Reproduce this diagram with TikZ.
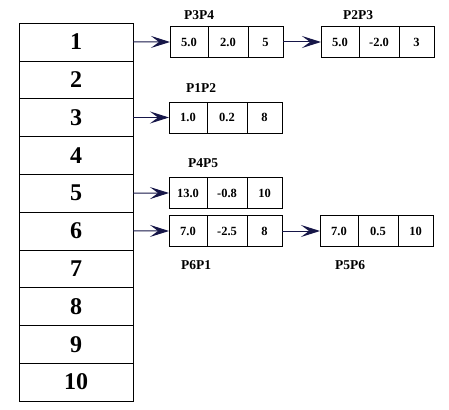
\documentclass[tikz,border=0pt]{standalone}
\usepackage{fontspec}
\setmainfont{Liberation Serif}
\usepackage{tikz}
\usetikzlibrary{positioning,arrows.meta}

\definecolor{linkblue}{RGB}{22,22,72}

\tikzset{
  slot/.style={draw, outer sep=0pt, inner sep=0pt, minimum width=114pt, minimum height=37.8pt,
    font=\fontsize{24}{24}\selectfont\bfseries},
  cell/.style={draw, outer sep=0pt, inner sep=0pt, minimum height=31pt,
    font=\fontsize{12.5}{12.5}\selectfont\bfseries},
  tag/.style={font=\fontsize{13.5}{13.5}\selectfont\bfseries},
  link/.style={draw=linkblue, line width=1pt, -{Stealth[length=19pt, width=12pt, inset=8pt]}}
}

% one record = three cells side by side
\newcommand{\record}[5]{%
  \node[cell, minimum width=38pt, anchor=west] (#1a) at #2 {#3};
  \node[cell, minimum width=40pt, right=0pt of #1a] (#1b) {#4};
  \node[cell, minimum width=35pt, right=0pt of #1b] (#1c) {#5};
}

\begin{document}
\begin{tikzpicture}[x=1pt, y=-1pt]
\useasboundingbox (0,0) rectangle (449,409);

% hash table
\foreach \i in {1,...,10}
  \node[slot] (r\i) at (76, {23+37.8*\i-18.9}) {\i};

% edge records
\record{pa}{(170,42)}{5.0}{2.0}{5}
\record{pb}{(321,42)}{5.0}{-2.0}{3}
\record{pc}{(169,117.5)}{1.0}{0.2}{8}
\record{pd}{(169,193)}{13.0}{-0.8}{10}
\record{pe}{(169,231)}{7.0}{-2.5}{8}
\record{pf}{(320,231)}{7.0}{0.5}{10}

\node[tag] (ta) at (199,15) {P3P4};
\node[tag] (tb) at (358,15) {P2P3};
\node[tag] (tc) at (201,88) {P1P2};
\node[tag] (td) at (203,163) {P4P5};
\node[tag] (te) at (196,265) {P6P1};
\node[tag] (tf) at (350,265) {P5P6};

% links
\draw[link] (r1.east) -- (paa.west);
\draw[link] (pac.east) -- (pba.west);
\draw[link] (r3.east) -- (pca.west);
\draw[link] (r5.east) -- (pda.west);
\draw[link] (r6.east) -- (pea.west);
\draw[link] (pec.east) -- (pfa.west);
\end{tikzpicture}
\end{document}
